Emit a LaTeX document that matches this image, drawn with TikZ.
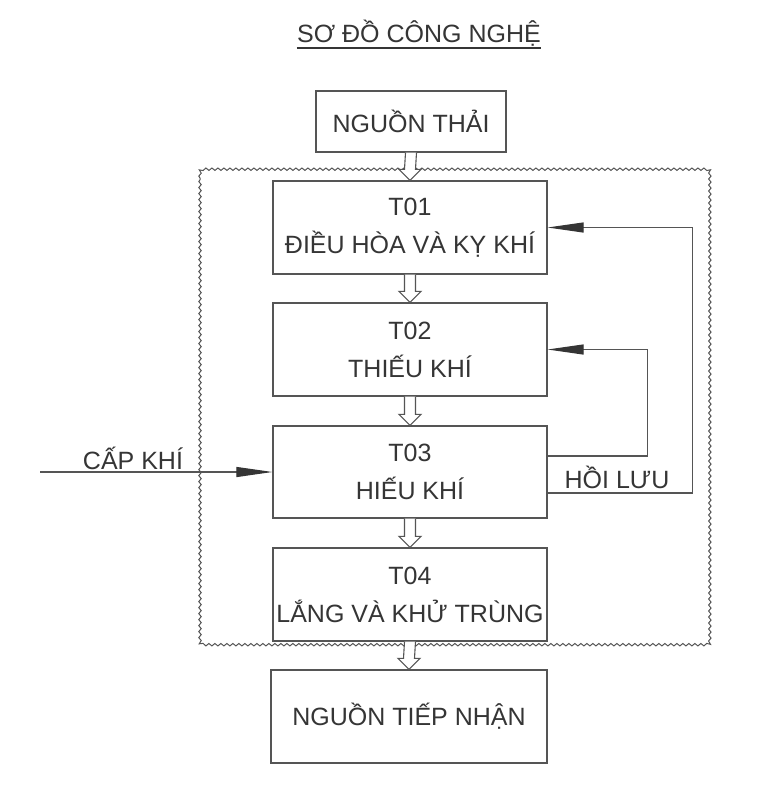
\documentclass[tikz,border=0pt]{standalone}
\usepackage{fontspec}
\setmainfont{Liberation Sans}
\usetikzlibrary{arrows.meta,calc,decorations.pathmorphing}
\definecolor{ink}{HTML}{353535}
\definecolor{linec}{HTML}{555555}
\tikzset{
  box/.style={draw=linec,line width=1.2pt,minimum width=274pt,minimum height=93pt,inner sep=0pt,text=ink,font=\fontsize{25}{38}\selectfont,align=center},
  lbl/.style={text=ink,font=\fontsize{25}{30}\selectfont,inner sep=0pt},
  flow/.style={draw=linec,line width=1.1pt,fill=white,line join=miter},
  fb/.style={draw=linec,line width=1.1pt,-{Triangle[length=36pt,width=10pt,color=ink]}},
  wavy/.style={draw=linec,line width=1pt,decorate,decoration={snake,segment length=6pt,amplitude=1.2pt}}
}
\newcommand\harrow[2]{%
  \path[flow] ($(#1.south)+(-5.5,0)$) -- ($(#2.north)+(-5.5,-11)$) -- ($(#2.north)+(-11,-11)$) -- (#2.north) -- ($(#2.north)+(11,-11)$) -- ($(#2.north)+(5.5,-11)$) -- ($(#1.south)+(5.5,0)$);}
\begin{document}
\begin{tikzpicture}[x=1pt,y=-1pt]
\useasboundingbox[fill=white] (0,0) rectangle (757,785);
% group border
\draw[wavy] (200,178) .. controls (200,170) .. (208,170) -- (702,170) .. controls (710,170) .. (710,178) -- (710,639) .. controls (710,647) .. (702,647) -- (208,647) .. controls (200,647) .. (200,639) -- cycle;
% title
\node[lbl,anchor=base] (title) at (419,42) {SƠ ĐỒ CÔNG NGHỆ};
\draw[draw=ink,line width=1.2pt] ($(title.base west)+(0,6)$) -- ($(title.base east)+(0,6)$);
% boxes
\node[box,minimum width=190pt,minimum height=61pt] (src) at (411,121.5) {NGUỒN THẢI};
\node[box] (t1) at (410,227.5) {T01\\ĐIỀU HÒA VÀ KỴ KHÍ};
\node[box] (t2) at (410,349.5) {T02\\THIẾU KHÍ};
\node[box,minimum height=92pt] (t3) at (410,472) {T03\\HIẾU KHÍ};
\node[box] (t4) at (410,594.5) {T04\\LẮNG VÀ KHỬ TRÙNG};
\node[box,minimum width=276pt] (snk) at (409,716.5) {NGUỒN TIẾP NHẬN};
% hollow flow arrows
\harrow{src}{t1}
\harrow{t1}{t2}
\harrow{t2}{t3}
\harrow{t3}{t4}
\harrow{t4}{snk}
% air supply
\coordinate (air) at (40,472);
\draw[fb] (air) -- (t3.west);
\node[lbl] (airl) at (133,458) {CẤP KHÍ};
% recirculation
\draw[fb] ([yshift=-21pt]t3.east) -- ++(145,0) |- (t1.east);
\draw[fb] ([yshift=16pt]t3.east) -- ++(100,0) |- (t2.east);
\node[lbl] (hl) at (617,477) {HỒI LƯU};
\end{tikzpicture}
\end{document}
